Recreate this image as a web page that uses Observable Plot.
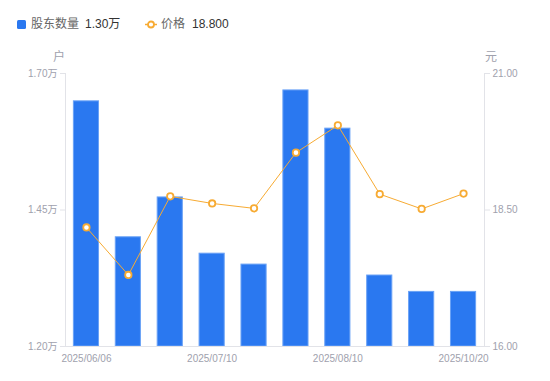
<!DOCTYPE html>
<html>
<head>
<meta charset="utf-8">
<script src="https://cdn.jsdelivr.net/npm/d3@7"></script>
<script src="https://cdn.jsdelivr.net/npm/@observablehq/plot@0.6"></script>
<style>
  html, body { margin: 0; padding: 0; background: #fff; }
  #wrap { position: relative; width: 550px; height: 381px; font-family: "Liberation Sans", "Noto Sans CJK SC", sans-serif; }
  #legend { position: absolute; left: 0; top: 0; width: 550px; height: 50px; font-size: 12px; }
  #legend > * { position: absolute; }
  .lab { color: #666; top: 16px; line-height: 17px; }
  .val { color: #333; top: 16px; line-height: 17px; }
  #chart { position: absolute; left: 0; top: 0; }
</style>
</head>
<body>
<div id="wrap">
  <div id="chart"></div>
  <div id="legend">
    <div style="left:17px;top:20px;width:9px;height:9px;background:#2a78f0;border-radius:1.5px;"></div>
    <span class="lab" style="left:31px;" id="s1name"></span>
    <span class="val" style="left:85px;" id="s1val"></span>
    <svg style="left:145px;top:19px;" width="12" height="11"><line x1="0" y1="5.5" x2="12" y2="5.5" stroke="#f7ab33" stroke-width="1.5"/><circle cx="6" cy="5.5" r="3" fill="#fff" stroke="#f7ab33" stroke-width="1.8"/></svg>
    <span class="lab" style="left:161px;" id="s2name"></span>
    <span class="val" style="left:192px;" id="s2val"></span>
  </div>
</div>
<script>
const dates = ["2025/06/06","2025/06/20","2025/06/30","2025/07/10","2025/07/20","2025/07/31","2025/08/10","2025/08/31","2025/09/30","2025/10/20"];
const holders = [1.649, 1.400, 1.473, 1.370, 1.350, 1.669, 1.599, 1.330, 1.300, 1.300]; // 万户
const prices = [18.18, 17.31, 18.75, 18.62, 18.53, 19.55, 20.05, 18.79, 18.52, 18.80]; // 元
const leftTicks = [1.20, 1.45, 1.70];
const rightTicks = [16.00, 18.50, 21.00];
const xTickLabels = ["2025/06/06","2025/07/10","2025/08/10","2025/10/20"];
const seriesNames = ["股东数量", "价格"];
const unitLeft = "户";
const unitRight = "元";

const blue = "#2a78f0", blueEdge = "#6aa2f6", orange = "#f7ab33";
const axisColor = "#e2e3e8", labelColor = "#a0a1ad";

const L0 = leftTicks[0], L1 = leftTicks[leftTicks.length - 1];
const R0 = rightTicks[0], R1 = rightTicks[rightTicks.length - 1];
const toLeft = p => L0 + (p - R0) / (R1 - R0) * (L1 - L0);
const toRight = v => R0 + (v - L0) / (L1 - L0) * (R1 - R0);

const data = dates.map((d, i) => ({date: d, holders: holders[i], price: prices[i], py: toLeft(prices[i])}));

document.getElementById("s1name").textContent = seriesNames[0];
document.getElementById("s1val").textContent = holders[holders.length - 1].toFixed(2) + "万";
document.getElementById("s2name").textContent = seriesNames[1];
document.getElementById("s2val").textContent = prices[prices.length - 1].toFixed(3);

const chart = Plot.plot({
  width: 550,
  height: 381,
  marginTop: 73,
  marginBottom: 35,
  marginLeft: 65,
  marginRight: 66,
  style: {fontFamily: '"Liberation Sans", "Noto Sans CJK SC", sans-serif', fontSize: "10px", background: "transparent", overflow: "visible"},
  x: {domain: dates, paddingInner: 0.4, paddingOuter: 0.2, round: false, axis: null},
  y: {domain: [L0, L1], axis: null},
  marks: [
    Plot.frame({anchor: "left", stroke: axisColor}),
    Plot.frame({anchor: "right", stroke: axisColor}),
    Plot.barY(data, {x: "date", y1: () => L0, y2: "holders", fill: blue, stroke: blueEdge, strokeWidth: 1}),
    Plot.ruleY([L0], {stroke: axisColor}),
    Plot.axisY(leftTicks, {anchor: "left", label: null, tickSize: 5, tickPadding: 3, stroke: axisColor, fill: labelColor, tickFormat: d => d.toFixed(2) + "万"}),
    Plot.axisY(rightTicks.map(toLeft), {anchor: "right", label: null, tickSize: 5, tickPadding: 3, stroke: axisColor, fill: labelColor, tickFormat: d => toRight(d).toFixed(2)}),
    Plot.axisX(xTickLabels, {label: null, tickSize: 0, tickPadding: 8, fill: labelColor}),
    Plot.text([unitLeft], {frameAnchor: "top-left", textAnchor: "middle", lineAnchor: "middle", dx: -6.5, dy: -16, fill: labelColor, fontSize: 12}),
    Plot.text([unitRight], {frameAnchor: "top-right", textAnchor: "middle", lineAnchor: "middle", dx: 6.5, dy: -16, fill: labelColor, fontSize: 12}),
    Plot.lineY(data, {x: "date", y: "py", stroke: orange, strokeWidth: 1}),
    Plot.dot(data, {x: "date", y: "py", r: 3.2, fill: "#fff", stroke: orange, strokeWidth: 1.8})
  ]
});
document.getElementById("chart").appendChild(chart);
</script>
</body>
</html>
